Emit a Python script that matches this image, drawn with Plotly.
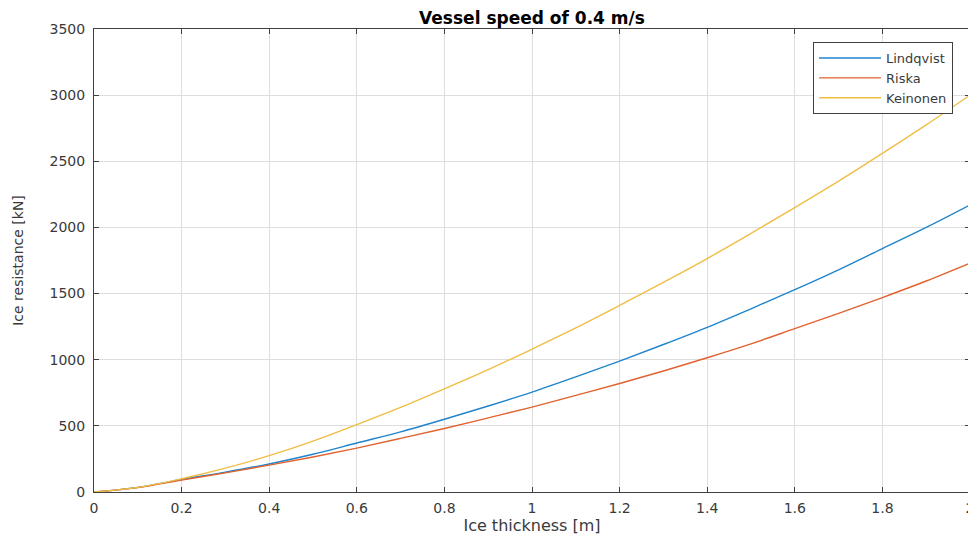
import plotly.graph_objects as go

thickness = [0.0, 0.1, 0.2, 0.3, 0.4, 0.5, 0.6, 0.7, 0.8, 0.9, 1.0,
             1.1, 1.2, 1.3, 1.4, 1.5, 1.6, 1.7, 1.8, 1.9, 2.0]
lindqvist = [0, 35, 95, 150, 212, 285, 370, 455, 550, 650, 755,
             870, 990, 1115, 1245, 1385, 1530, 1680, 1840, 2000, 2170]
riska = [0, 33, 90, 145, 203, 265, 332, 405, 480, 560, 642,
         730, 820, 915, 1015, 1120, 1235, 1350, 1470, 1595, 1730]
keinonen = [0, 35, 100, 180, 275, 385, 510, 640, 780, 925, 1080,
            1240, 1410, 1585, 1765, 1955, 2150, 2350, 2560, 2775, 3000]

x_ticks = [0, 0.2, 0.4, 0.6, 0.8, 1, 1.2, 1.4, 1.6, 1.8, 2]
x_labels = ["0", "0.2", "0.4", "0.6", "0.8", "1", "1.2", "1.4", "1.6", "1.8", "2"]
y_ticks = [0, 500, 1000, 1500, 2000, 2500, 3000, 3500]

series = [("Lindqvist", lindqvist, "#1f84cc"),
          ("Riska", riska, "#e0622f"),
          ("Keinonen", keinonen, "#f0bd45")]

fig = go.Figure()
for name, vals, col in series:
    fig.add_trace(go.Scatter(x=thickness, y=vals, name=name, mode="lines",
                             line=dict(color=col, width=1.4, shape="spline")))

font_family = "DejaVu Sans, Verdana, sans-serif"
txt = "#3a3a3a"
axis_common = dict(showline=True, linecolor="#404040", linewidth=1, mirror="ticks",
                   ticks="inside", ticklen=5, tickcolor="#404040",
                   showgrid=True, gridcolor="#dedede", gridwidth=1,
                   zeroline=False, automargin=False,
                   tickfont=dict(size=14, color=txt, family=font_family))

# page body adds an 8px offset; figure sized to fit the 976x538 window
W, H = 968, 530
L, R, T, B = 86, 6, 21, 46

fig.update_layout(
    width=W, height=H,
    margin=dict(l=L, r=R, t=T, b=B, autoexpand=False),
    paper_bgcolor="white", plot_bgcolor="white",
    font=dict(family=font_family, color=txt),
    title=dict(text="<b>Vessel speed of 0.4 m/s</b>", x=(L + (W - R)) / 2 / W, xanchor="center",
               y=1 - 10.5 / H, yanchor="middle", font=dict(size=17, color="#000000")),
    xaxis=dict(range=[0, 2], tickvals=x_ticks, ticktext=x_labels, ticklabelstandoff=3,
               title=dict(text="Ice thickness [m]", font=dict(size=16, color=txt), standoff=5),
               **axis_common),
    yaxis=dict(range=[0, 3500], tickvals=y_ticks, ticklabelstandoff=5,
               title=dict(text="Ice resistance [kN]", font=dict(size=14, color=txt), standoff=22),
               **axis_common),
    legend=dict(x=(945 - L) / (W - L - R), y=(484 - 34) / (H - T - B), xanchor="right", yanchor="top",
                bgcolor="white", bordercolor="#404040", borderwidth=1,
                font=dict(size=13, color=txt), tracegroupgap=0,
                itemwidth=62),
    showlegend=True,
)

fig.write_html("out.html")
